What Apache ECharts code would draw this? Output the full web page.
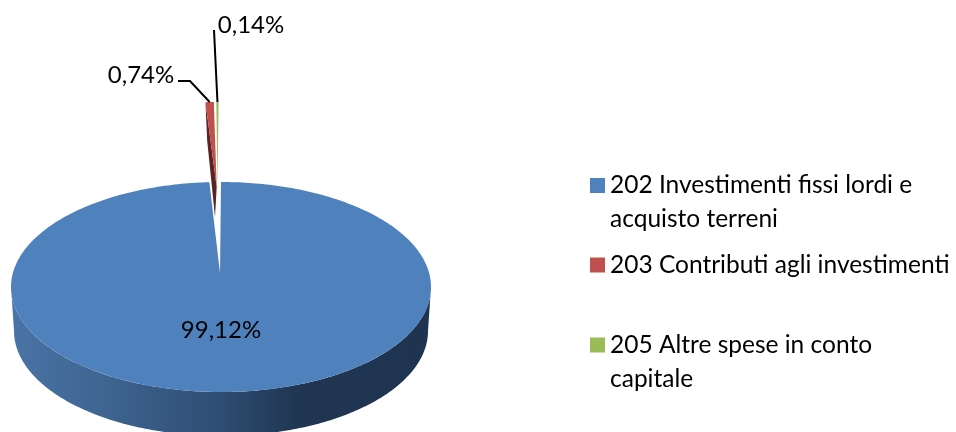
<!DOCTYPE html>
<html>
<head>
    <meta charset="UTF-8">
    <title>Spese in conto capitale</title>
    <script src="https://cdn.jsdelivr.net/npm/echarts@6/dist/echarts.min.js"></script>
    <style>
        html, body { margin: 0; padding: 0; background: #fff; }
        #container { width: 956px; height: 432px; }
    </style>
</head>
<body>
<div id="container"></div>
<script>
    // data
    var categories = ['202 Investimenti fissi lordi e\nacquisto terreni', '203 Contributi agli investimenti', '205 Altre spese in conto\ncapitale'];
    var sliceValues = [99.12, 0.74, 0.14];

    var sliceColors = ['#4F81BD', '#C0504D', '#9BBB59'];
    var FONT = 'Lato';
    var LABEL_SIZE = 24;
    var LEGEND_SIZE = 24.5;

    // pie layout: each slice is exploded on its own, so it has its own ellipse and apex
    var layouts = [
        {apex: [220, 273], cx: 221, cy: 287, rx: 210, ry: 105},
        {apex: [216.7, 187], cx: 215.4, cy: 201, rx: 180, ry: 99},
        {apex: [217.5, 187], cx: 218.6, cy: 201, rx: 260, ry: 99}
    ];
    // lower rim of the big slice, seen from above
    var bottomRim = {cx: 221, cy: 331, rx: 207, ry: 105};
    var labelPos = [[221, 330], [141, 75], [251, 25]];
    // elbow points of the leader lines
    var leaders = [null, [[178, 81], [190, 81]], [[214, 30]]];
    var legendTops = [134.5, 248, 294];

    var total = sliceValues.reduce(function (a, b) { return a + b; }, 0);

    function startAngle(i) {
        var sum = 0;
        for (var k = 0; k < i; k++) sum += sliceValues[k];
        return sum / total * Math.PI * 2;
    }

    function rimPoint(g, a) {
        return [g.cx + g.rx * Math.sin(a), g.cy - g.ry * Math.cos(a)];
    }

    function arcPoints(g, a0, a1) {
        var n = Math.max(2, Math.ceil((a1 - a0) * 60));
        var pts = [];
        for (var k = 0; k <= n; k++) pts.push(rimPoint(g, a0 + (a1 - a0) * k / n));
        return pts;
    }

    function percent(v) {
        return v.toFixed(2).replace('.', ',') + '%';
    }

    function renderSlice(params, api) {
        var i = params.seriesIndex;
        var g = layouts[i];
        var a0 = startAngle(i);
        var a1 = a0 + api.value(0) / total * Math.PI * 2;
        var children = [];

        if (i === 0) {
            // front wall of the big slice
            var front = arcPoints(g, Math.PI / 2, Math.PI * 1.5);
            var back = arcPoints(bottomRim, Math.PI / 2, Math.PI * 1.5).reverse();
            children.push({
                type: 'polygon',
                shape: {points: front.concat(back)},
                style: {
                    fill: new echarts.graphic.LinearGradient(0, 0, 1, 0, [
                        {offset: 0, color: '#4a74a6'},
                        {offset: 0.21, color: '#3f6592'},
                        {offset: 0.5, color: '#2e4d72'},
                        {offset: 0.69, color: '#1f3551'},
                        {offset: 1, color: '#1e3450'}
                    ])
                }
            });
        }
        if (i === 1) {
            // cut side of the red slice
            var p = rimPoint(g, a0);
            children.push({
                type: 'polygon',
                shape: {points: [p, [p[0] + 1.7, p[1] + 38], [g.apex[0] - 1.7, g.apex[1] + 30], g.apex]},
                style: {fill: '#5a2422'}
            });
        }

        children.push({
            type: 'polygon',
            shape: {points: [g.apex].concat(arcPoints(g, a0, a1))},
            style: {fill: sliceColors[i]}
        });

        if (leaders[i]) {
            children.push({
                type: 'polyline',
                shape: {points: leaders[i].concat([rimPoint(g, (a0 + a1) / 2)])},
                style: {stroke: '#000', lineWidth: 2, fill: null}
            });
        }

        children.push({
            type: 'text',
            x: labelPos[i][0],
            y: labelPos[i][1],
            style: {
                text: percent(api.value(0)),
                fill: '#000',
                font: LABEL_SIZE + 'px ' + FONT,
                align: 'center',
                verticalAlign: 'middle'
            }
        });

        return {type: 'group', children: children};
    }

    // the swatch sits on the first line: a blank line on top of a two line name puts
    // the first line at the middle of the text block, where the legend puts the swatch
    function legendText(name) {
        return name.indexOf('\n') >= 0 ? '\n' + name : name;
    }

    var chart_container = echarts.init(document.getElementById('container'), null, {renderer: 'canvas'});

    var option_container = {
        animation: false,
        backgroundColor: '#fff',
        color: sliceColors,
        legend: categories.map(function (name, i) {
            return {
                data: [name],
                orient: 'vertical',
                left: 590,
                top: legendTops[i],
                padding: 0,
                itemWidth: 15,
                itemHeight: 15,
                icon: 'rect',
                selectedMode: false,
                formatter: legendText,
                textStyle: {
                    color: '#000',
                    fontFamily: FONT,
                    fontSize: LEGEND_SIZE,
                    lineHeight: 34
                }
            };
        }),
        series: categories.map(function (name, i) {
            return {
                type: 'custom',
                name: name,
                coordinateSystem: 'none',
                silent: true,
                itemStyle: {color: sliceColors[i]},
                renderItem: renderSlice,
                data: [[sliceValues[i]]]
            };
        })
    };
    chart_container.setOption(option_container);
</script>
</body>
</html>
